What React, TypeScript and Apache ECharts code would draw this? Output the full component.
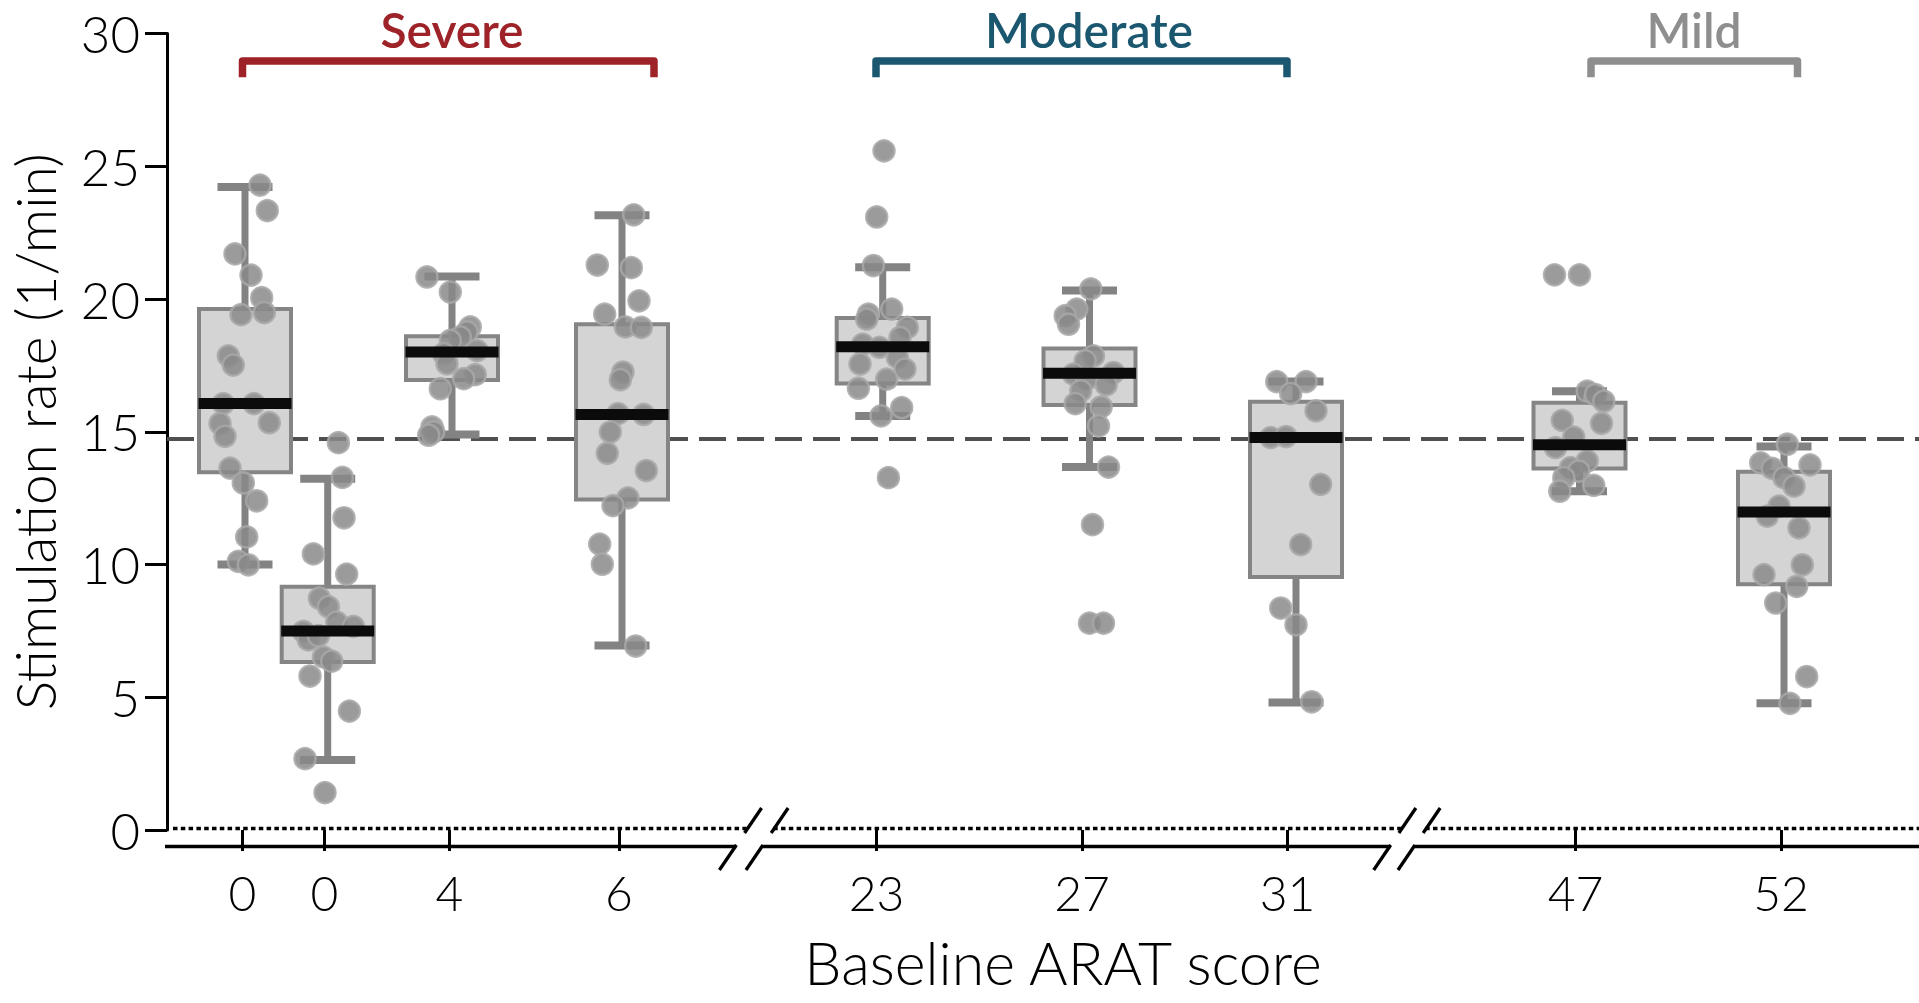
import { useEffect, useRef } from 'react'
import * as echarts from 'echarts'

// Baseline ARAT score of each participant (x tick labels)
const aratLabels = ['0', '0', '4', '6', '23', '27', '31', '47', '52']

// Box statistics (stimulation rate, 1/min)
const boxLow = [10.0, 2.64, 14.9, 6.95, 15.59, 13.67, 4.8, 12.76, 4.77]
const boxQ1 = [13.47, 6.33, 16.95, 12.45, 16.82, 16.01, 9.53, 13.62, 9.26]
const boxMedian = [16.06, 7.5, 18.0, 15.65, 18.2, 17.2, 14.78, 14.51, 11.98]
const boxQ3 = [19.62, 9.16, 18.6, 19.05, 19.28, 18.14, 16.13, 16.09, 13.49]
const boxHigh = [24.22, 13.23, 20.85, 23.15, 21.2, 20.32, 16.89, 16.53, 14.44]

// Individual session rates per participant
const ratesP1 = [24.29, 23.33, 21.7, 20.9, 20.05, 19.41, 19.49, 17.86, 17.51, 16.06, 16.06, 15.31, 15.34, 14.83, 13.63, 13.07, 12.4, 11.04, 10.12, 9.99]
const ratesP2 = [14.59, 13.28, 11.76, 10.4, 9.64, 8.73, 8.41, 7.83, 7.67, 7.48, 7.16, 7.32, 6.52, 6.36, 5.8, 4.48, 2.69, 1.41]
const ratesP3 = [20.83, 20.26, 18.95, 18.76, 18.57, 18.44, 18.06, 17.94, 17.56, 17.15, 17.0, 16.62, 15.18, 15.0, 14.87]
const ratesP4 = [23.17, 21.28, 21.18, 19.93, 19.43, 18.95, 18.93, 17.25, 16.96, 15.68, 15.65, 14.99, 14.19, 13.54, 12.51, 12.22, 10.77, 10.01, 6.93]
const ratesP5 = [25.58, 23.09, 21.26, 19.43, 19.62, 19.24, 18.93, 18.55, 18.3, 18.18, 17.8, 17.36, 17.55, 16.98, 16.64, 15.91, 15.6, 13.27]
const ratesP6 = [20.38, 19.62, 19.37, 19.05, 17.86, 17.67, 17.23, 17.17, 16.98, 16.77, 16.54, 16.06, 15.94, 15.22, 13.67, 11.5, 7.79, 7.79]
const ratesP7 = [16.89, 16.89, 16.44, 15.79, 14.78, 14.82, 13.02, 10.75, 8.36, 7.73, 4.83]
const ratesP8 = [20.91, 20.91, 16.53, 16.4, 16.15, 15.43, 15.32, 14.8, 14.4, 13.9, 13.65, 13.52, 13.27, 12.98, 12.76]
const ratesP9 = [14.53, 13.83, 13.75, 13.62, 13.27, 12.95, 12.2, 11.82, 11.38, 9.99, 9.62, 9.18, 8.55, 5.78, 4.77]

// Horizontal jitter of each dot (x-axis units)
const jitterP1 = [1.5, 2.23, -1.0, 0.6, 1.67, -0.4, 1.93, -1.67, -1.17, -2.17, 0.9, -2.5, 2.43, -2.0, -1.5, -0.17, 1.17, 0.17, -0.67, 0.33]
const jitterP2 = [1.07, 1.47, 1.63, -1.43, 1.9, -0.83, 0.07, 0.9, 2.57, -2.43, -1.93, -0.93, -0.43, 0.4, -1.77, 2.17, -2.27, -0.27]
const jitterP3 = [-2.5, -0.17, 1.83, 1.5, 0.83, -0.17, 2.5, -0.83, -0.5, 2.33, 1.17, -1.17, -2.0, -1.83, -2.33]
const jitterP4 = [1.17, -2.47, 0.93, 1.7, -1.73, 0.33, 1.93, 0.1, -0.17, -0.4, 2.17, -1.17, -1.47, 2.43, 0.6, -0.9, -2.23, -1.97, 1.37]
const jitterP5 = [0.13, -0.6, -0.93, -1.43, 0.9, -1.6, 2.47, 1.73, -2.0, -0.33, 1.47, 2.23, -2.27, 0.4, -2.43, 1.9, -0.17, 0.57]
const jitterP6 = [0.13, -1.27, -2.43, -2.1, 0.4, -0.43, 2.4, -1.6, -0.27, 1.67, -0.87, -1.43, 1.17, 0.9, 1.9, 0.3, 0, 1.4]
const jitterP7 = [-1.93, 1.0, -0.53, 2.0, -2.53, -1.0, 2.47, 0.47, -1.53, 0, 1.57]
const jitterP8 = [-2.5, 0, 0.77, 1.6, 2.43, -1.73, 2.2, -0.57, -2.4, 0.77, -0.9, -0.07, -1.57, 1.43, -1.97]
const jitterP9 = [0.33, -2.33, 2.6, -1.17, 0, 1.0, -0.5, -1.67, 1.5, 1.83, -2.0, 1.27, -0.83, 2.27, 0.6]

const allRates = [ratesP1, ratesP2, ratesP3, ratesP4, ratesP5, ratesP6, ratesP7, ratesP8, ratesP9]
const allJitter = [jitterP1, jitterP2, jitterP3, jitterP4, jitterP5, jitterP6, jitterP7, jitterP8, jitterP9]

// dashed reference line
const referenceRate = 14.75

// impairment groups
const groupNames = ['Severe', 'Moderate', 'Mild']
const groupColors = ['#9e2329', '#1b5870', '#8e8e8e']

// ---- layout (x axis in units of 10 px from the y axis) ----
const GRID_LEFT = 167
const GRID_TOP = 33.5
const ZERO_PY = 830
const PX = 10
const X_MAX = (1919 - GRID_LEFT) / PX
const BOX_X = [7.8, 16.07, 28.5, 45.5, 71.57, 92.25, 112.9, 141.25, 161.7]
const TICK_X = [7.55, 15.75, 28.25, 45.2, 70.95, 91.5, 112.05, 140.85, 161.4]
const GROUP_START = [7.55, 70.9, 142.4]
const GROUP_END = [48.7, 112.0, 163.05]
const GROUP_LABEL_X = [28.5, 92.2, 152.7]
const BOX_WIDTH = 9.2
const CAP_WIDTH = 5.5
const MEDIAN_WIDTH = 9.3

const FONT = 'Lato, "Open Sans", sans-serif'
const GREY = '#838383'

const yPerUnit = (ZERO_PY - GRID_TOP) / 30
const pxY = (py: number) => (ZERO_PY - py) / yPerUnit
const pxX = (px: number) => (px - GRID_LEFT) / PX

// axis-break slashes: x (px) where each slash meets row 870, slope dx/dy
const BREAK_BASES = [719.4, 746, 1373.7, 1398]
const slashX = (base: number, py: number) => base + (870 - py) * 0.68
const AXIS_PY = 846
const DOT_PY = 828.5

export default function App() {
  const ref = useRef<HTMLDivElement>(null)

  useEffect(() => {
    if (!ref.current) {
      return
    }
    const chart = echarts.init(ref.current, undefined, { renderer: 'svg' })

    const boxData = BOX_X.map((x, i) => [x, boxLow[i], boxQ1[i], boxMedian[i], boxQ3[i], boxHigh[i]])
    const dots: number[][] = []
    allRates.forEach((rates, i) => {
      rates.forEach((r, j) => dots.push([BOX_X[i] + allJitter[i][j], r]))
    })

    const seg = (x1: number, y1: number, x2: number, y2: number) => ({
      coords: [[pxX(x1), pxY(y1)], [pxX(x2), pxY(y2)]],
    })
    const [b0, b1, b2, b3] = BREAK_BASES
    const axisSegs = [
      seg(GRID_LEFT - 2, AXIS_PY, slashX(b0, 845), AXIS_PY),
      seg(slashX(b1, 845), AXIS_PY, slashX(b2, 845), AXIS_PY),
      seg(slashX(b3, 845), AXIS_PY, 1919, AXIS_PY),
    ]
    const slashSegs = BREAK_BASES.flatMap((b) => [
      seg(slashX(b, 870), 870, slashX(b, 845), 845),
      seg(slashX(b, 833), 833, slashX(b, 808), 808),
    ])
    const dotSegs = [
      seg(GRID_LEFT + 6, DOT_PY, slashX(b0, 830), DOT_PY),
      seg(slashX(b1, 830), DOT_PY, slashX(b2, 830), DOT_PY),
      seg(slashX(b3, 830), DOT_PY, 1919, DOT_PY),
    ]
    const bracketTop = pxY(61)
    const bracketEnd = pxY(77.3)
    const brackets = groupNames.map((_, g) => ({
      coords: [
        [GROUP_START[g], bracketEnd],
        [GROUP_START[g], bracketTop],
        [GROUP_END[g], bracketTop],
        [GROUP_END[g], bracketEnd],
      ],
      lineStyle: { color: groupColors[g] },
    }))

    const textStyle = { fontFamily: FONT, fontWeight: 300 as const, color: '#000' }

    chart.setOption({
      animation: false,
      grid: {
        left: GRID_LEFT,
        right: 0,
        top: GRID_TOP,
        bottom: 1003 - ZERO_PY,
        containLabel: false,
        outerBoundsMode: 'none',
      },
      xAxis: {
        type: 'value',
        min: 0,
        max: X_MAX,
        offset: AXIS_PY - ZERO_PY,
        axisLine: { show: false },
        splitLine: { show: false },
        axisTick: {
          show: true,
          length: 21,
          customValues: TICK_X,
          lineStyle: { color: '#000', width: 3 },
        },
        axisLabel: {
          ...textStyle,
          fontSize: 48,
          margin: 22,
          customValues: TICK_X,
          formatter: (v: number) => aratLabels[TICK_X.findIndex((s) => Math.abs(s - v) < 1e-6)] ?? '',
        },
        name: 'Baseline ARAT score',
        nameLocation: 'middle',
        nameGap: 87,
        nameTextStyle: { ...textStyle, fontSize: 59, padding: [0, 0, 0, 40] },
      },
      yAxis: {
        type: 'value',
        min: 0,
        max: 30,
        interval: 5,
        axisLine: { show: true, lineStyle: { color: '#000', width: 3 } },
        axisTick: { show: true, length: 22, lineStyle: { color: '#000', width: 3 } },
        axisLabel: { ...textStyle, fontSize: 51, margin: 27 },
        splitLine: { show: false },
        name: 'Stimulation rate (1/min)',
        nameLocation: 'middle',
        nameRotate: 90,
        nameGap: 105,
        nameTextStyle: { ...textStyle, fontSize: 55 },
      },
      series: [
        {
          type: 'lines',
          coordinateSystem: 'cartesian2d',
          clip: false,
          silent: true,
          z: 1,
          lineStyle: { color: '#505050', width: 4, type: [27, 11], opacity: 1 },
          data: [{ coords: [[0, referenceRate], [X_MAX, referenceRate]] }],
        },
        {
          type: 'lines',
          coordinateSystem: 'cartesian2d',
          clip: false,
          silent: true,
          z: 1,
          lineStyle: { color: '#000', width: 3.3, type: [4.5, 3.3], opacity: 1 },
          data: dotSegs,
        },
        {
          type: 'lines',
          coordinateSystem: 'cartesian2d',
          clip: false,
          silent: true,
          z: 1,
          lineStyle: { color: '#000', width: 3.3, opacity: 1 },
          data: [...axisSegs, ...slashSegs],
        },
        {
          type: 'lines',
          coordinateSystem: 'cartesian2d',
          polyline: true,
          clip: false,
          silent: true,
          z: 1,
          lineStyle: { width: 7.5, opacity: 1, join: 'round' },
          data: brackets,
        },
        {
          type: 'custom',
          z: 2,
          silent: true,
          data: boxData,
          renderItem: (_p: unknown, api: any) => {
            const x = api.value(0)
            const [cx, yLo] = api.coord([x, api.value(1)])
            const yQ1 = api.coord([x, api.value(2)])[1]
            const yQ3 = api.coord([x, api.value(4)])[1]
            const yHi = api.coord([x, api.value(5)])[1]
            const half = api.size([BOX_WIDTH, 0])[0] / 2
            const cap = api.size([CAP_WIDTH, 0])[0] / 2
            return {
              type: 'group',
              children: [
                { type: 'line', shape: { x1: cx, y1: yQ3, x2: cx, y2: yHi }, style: { stroke: GREY, lineWidth: 7 } },
                { type: 'line', shape: { x1: cx, y1: yQ1, x2: cx, y2: yLo }, style: { stroke: GREY, lineWidth: 7 } },
                { type: 'line', shape: { x1: cx - cap, y1: yHi, x2: cx + cap, y2: yHi }, style: { stroke: GREY, lineWidth: 8 } },
                { type: 'line', shape: { x1: cx - cap, y1: yLo, x2: cx + cap, y2: yLo }, style: { stroke: GREY, lineWidth: 8 } },
                {
                  type: 'rect',
                  shape: { x: cx - half, y: yQ3, width: half * 2, height: yQ1 - yQ3 },
                  style: { fill: '#d4d4d4', stroke: '#858585', lineWidth: 4 },
                },
              ],
            }
          },
        },
        {
          type: 'scatter',
          z: 3,
          silent: true,
          clip: false,
          symbolSize: 21,
          itemStyle: { color: '#8a8a8a', opacity: 0.85, borderColor: '#a8a8a8', borderWidth: 2.5 },
          data: dots,
        },
        {
          type: 'custom',
          z: 4,
          silent: true,
          data: boxData,
          renderItem: (_p: unknown, api: any) => {
            const [cx, yMed] = api.coord([api.value(0), api.value(3)])
            const half = api.size([MEDIAN_WIDTH, 0])[0] / 2
            return {
              type: 'rect',
              shape: { x: cx - half, y: yMed - 5.5, width: half * 2, height: 11 },
              style: { fill: '#0b0b0b' },
            }
          },
        },
        {
          type: 'scatter',
          z: 5,
          silent: true,
          clip: false,
          symbolSize: 1,
          itemStyle: { color: 'rgba(0,0,0,0)', opacity: 1 },
          label: {
            show: true,
            position: 'inside',
            formatter: '{b}',
            fontFamily: FONT,
            fontWeight: 600,
            fontSize: 48,
            lineHeight: 44,
            opacity: 1,
            textBorderWidth: 0,
          },
          data: groupNames.map((name, g) => ({
            name,
            value: [GROUP_LABEL_X[g], pxY(29)],
            label: { color: groupColors[g] },
          })),
        },
      ],
    })

    const onResize = () => chart.resize()
    window.addEventListener('resize', onResize)
    return () => {
      window.removeEventListener('resize', onResize)
      chart.dispose()
    }
  }, [])

  return (
    <div
      ref={ref}
      role="img"
      aria-label="stimulation rate by baseline ARAT score"
      style={{ position: 'fixed', left: 0, top: 0, width: '100vw', height: '100vh' }}
    />
  )
}
